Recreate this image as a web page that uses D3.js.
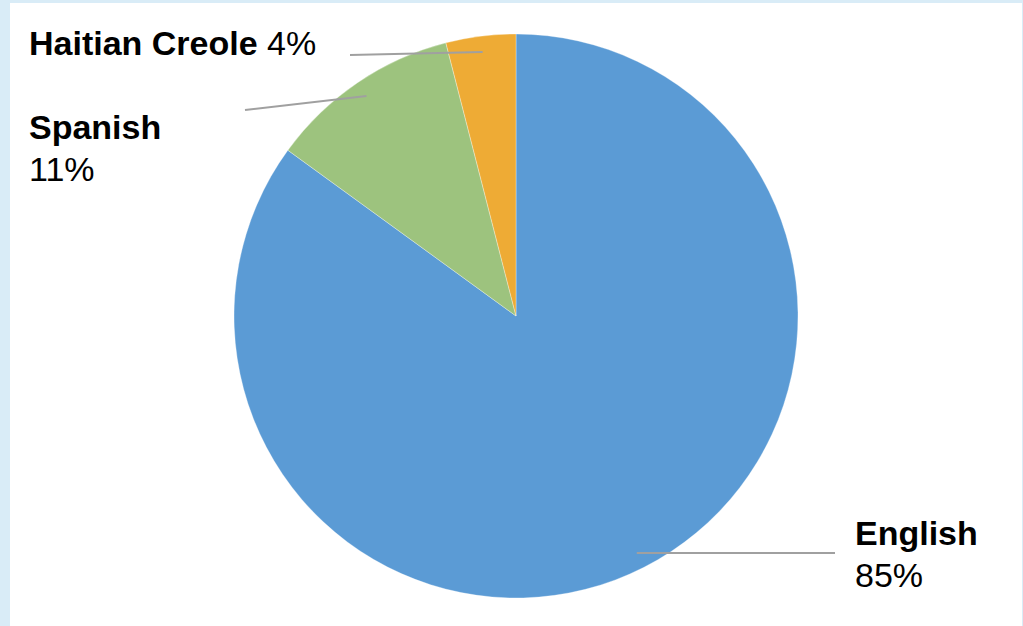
<!DOCTYPE html>
<html>
<head>
<meta charset="utf-8">
<script src="https://cdn.jsdelivr.net/npm/d3@7"></script>
<style>
  body { margin: 0; background: #d9ecf7; }
  svg { display: block; font-family: "Liberation Sans", Arial, sans-serif; }
</style>
</head>
<body>
<div id="viz"></div>
<script>
var languages = ["English", "Spanish", "Haitian Creole"];
var shares = [85, 11, 4];
var colors = ["#5b9bd5", "#9dc37e", "#eeab35"];

var width = 1023,
    height = 626,
    cx = 516,
    cy = 316,
    radius = 282;

var svg = d3.select('#viz')
  .append("svg")
  .attr("width", width)
  .attr("height", height);

// white slide panel
svg.append("rect")
  .attr("x", 10).attr("y", 3)
  .attr("width", 1012).attr("height", height - 3)
  .attr("fill", "#fff");

var data = languages.map((d, i) => ({name: d, value: shares[i], color: colors[i]}));

var pie = d3.pie().sort(null).value(d => d.value);
var arc = d3.arc().innerRadius(0).outerRadius(radius);
var leaderArc = d3.arc().innerRadius(266).outerRadius(266);

var g = svg.append("g").attr("transform", `translate(${cx},${cy})`);
var arcs = pie(data);

g.selectAll("path.slice")
  .data(arcs)
  .enter().append("path")
  .attr("class", "slice")
  .attr("d", arc)
  .attr("fill", d => d.data.color)
  .attr("stroke", "#fff")
  .attr("stroke-opacity", 0.4)
  .attr("stroke-width", 0.8);

// label placement (page coords), keyed by category
var labelPos = {
  "English": {x: 855, y: 545, lineEnd: 835, twoLine: true},
  "Spanish": {x: 29, y: 139, lineEnd: 245, twoLine: true},
  "Haitian Creole": {x: 29, y: 55, lineEnd: 350, twoLine: false}
};

// leader lines
arcs.forEach(d => {
  var p = leaderArc.centroid(d);
  var lp = labelPos[d.data.name];
  var endY = d.data.name == "English" ? cy + p[1] : (d.data.name == "Spanish" ? 110 : 55);
  svg.append("line")
    .attr("x1", cx + p[0]).attr("y1", cy + p[1])
    .attr("x2", lp.lineEnd).attr("y2", endY)
    .attr("stroke", "#a0a0a0")
    .attr("stroke-width", 2);
});

// labels
arcs.forEach(d => {
  var lp = labelPos[d.data.name];
  var t = svg.append("text")
    .attr("x", lp.x).attr("y", lp.y)
    .attr("font-size", 34)
    .attr("fill", "#000");
  t.append("tspan").attr("font-weight", "bold").text(d.data.name);
  if (lp.twoLine) {
    t.append("tspan").attr("x", lp.x).attr("dy", 42).text(d.data.value + "%");
  } else {
    t.append("tspan").text(" " + d.data.value + "%");
  }
});
</script>
</body>
</html>
